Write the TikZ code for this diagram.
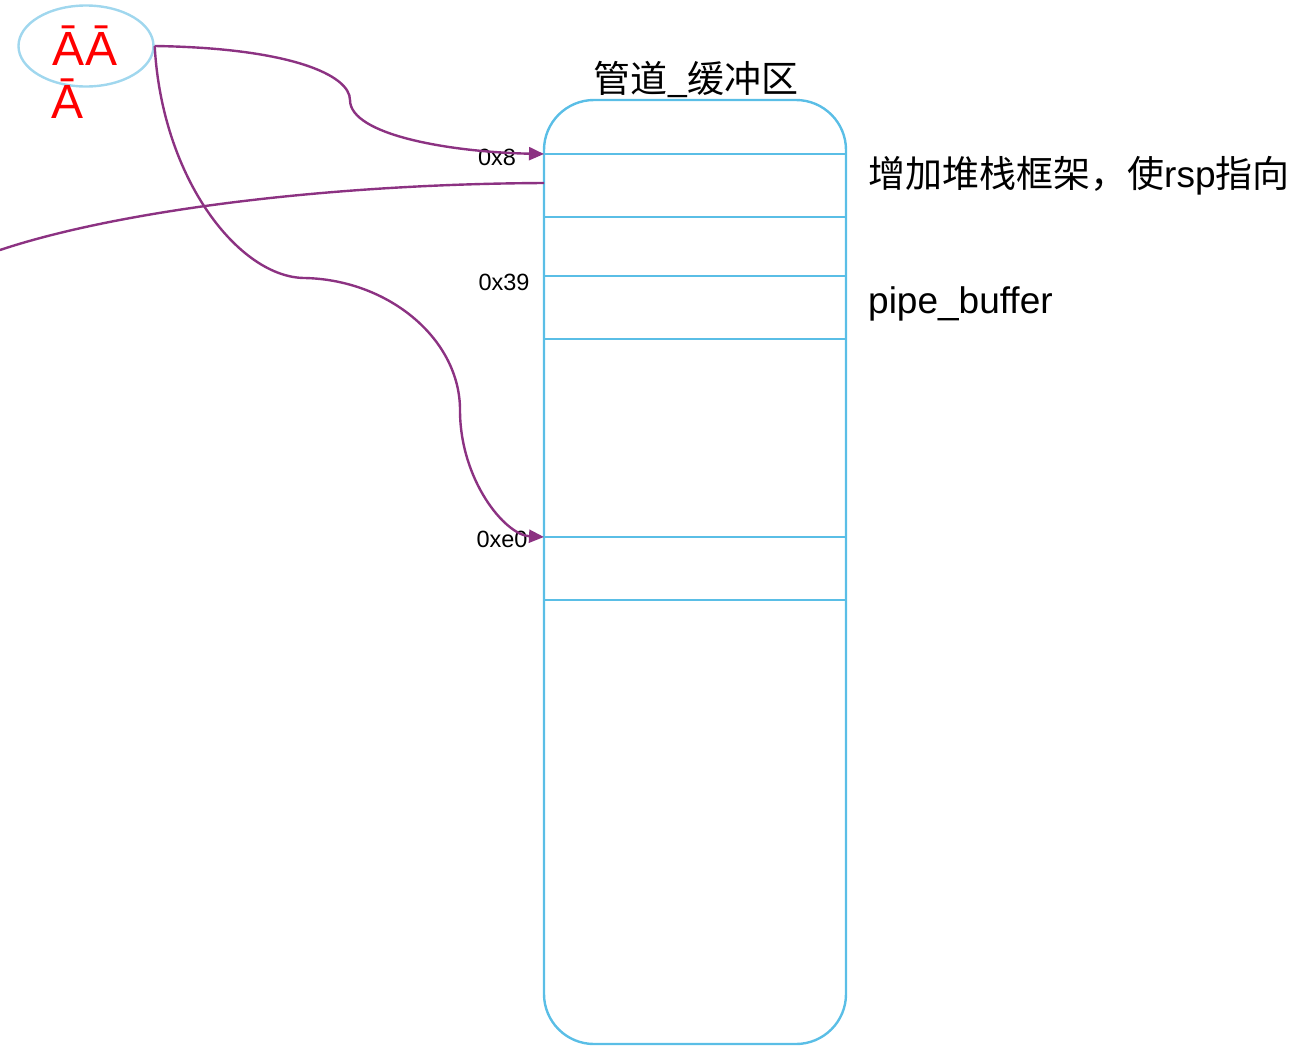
\documentclass[tikz,border=0pt]{standalone}
\usepackage{fontspec}
\setmainfont{Liberation Sans}
\newfontfamily\cjk{Noto Sans CJK SC}
\usetikzlibrary{arrows.meta,shapes.geometric}
\definecolor{bufblue}{RGB}{90,190,230}
\definecolor{ellblue}{RGB}{160,215,238}
\definecolor{arrpurple}{RGB}{140,50,130}
\tikzset{
  buf/.style={draw=bufblue, line width=2.4pt},
  conn/.style={draw=arrpurple, line width=2.4pt},
  tip/.style={-{Triangle[length=15pt,width=13pt]}},
  addr/.style={font=\fontsize{23.5}{26}\selectfont, inner sep=0pt},
  side/.style={font=\fontsize{37}{42}\selectfont, inner sep=0pt, anchor=west},
}
\begin{document}
\begin{tikzpicture}[x=1pt,y=-1pt]
\useasboundingbox (0,0) rectangle (1304,1045);
% buffer
\draw[buf, rounded corners=50pt] (544,100) rectangle (846,1044);
\node[inner sep=0pt] (title) at (696,79) {\fontsize{37}{40}\selectfont\cjk 管道\_缓冲区};
\foreach \yy/\nm in {154/l1,217/l2,276/l3,339/l4,537/l5,600/l6}{
  \coordinate (\nm w) at (544,\yy);
  \coordinate (\nm e) at (846,\yy);
  \draw[buf] (\nm w) -- (\nm e);
}
\coordinate (mid) at (544,183);
\coordinate (left) at (0,250);
% ellipse
\node[draw=ellblue, line width=2.4pt, ellipse, minimum width=135pt, minimum height=81pt, inner sep=0pt] (ell) at (86,46) {};
\node[text=red, font=\fontsize{48}{50}\selectfont, inner sep=0pt, anchor=base] (aa) at (85,65) {ĀĀ};
\node[text=red, font=\fontsize{48}{50}\selectfont, inner sep=0pt, anchor=base] (a) at (68,118) {Ā};
% labels
\node[addr] (n8) at (497,157) {0x8};
\node[addr] (n39) at (504,282) {0x39};
\node[addr] (ne0) at (502,539) {0xe0};
\node[side] (t1) at (868,176) {\cjk 增加堆栈框架，使\normalfont rsp\cjk 指向};
\node[side] (t2) at (868,304) {pipe\_buffer};
% connectors
\draw[conn, tip] (ell.east) .. controls (290,48) and (350,75) .. (350,100)
  .. controls (350,135) and (450,152) .. (l1w);
\draw[conn] (mid) .. controls (330,184) and (120,210) .. (left);
\draw[conn, tip] (ell.east) .. controls (162,180) and (240,278) .. (305,278)
  .. controls (390,280) and (460,340) .. (460,410)
  .. controls (460,480) and (505,535) .. (l5w);
\end{tikzpicture}
\end{document}
